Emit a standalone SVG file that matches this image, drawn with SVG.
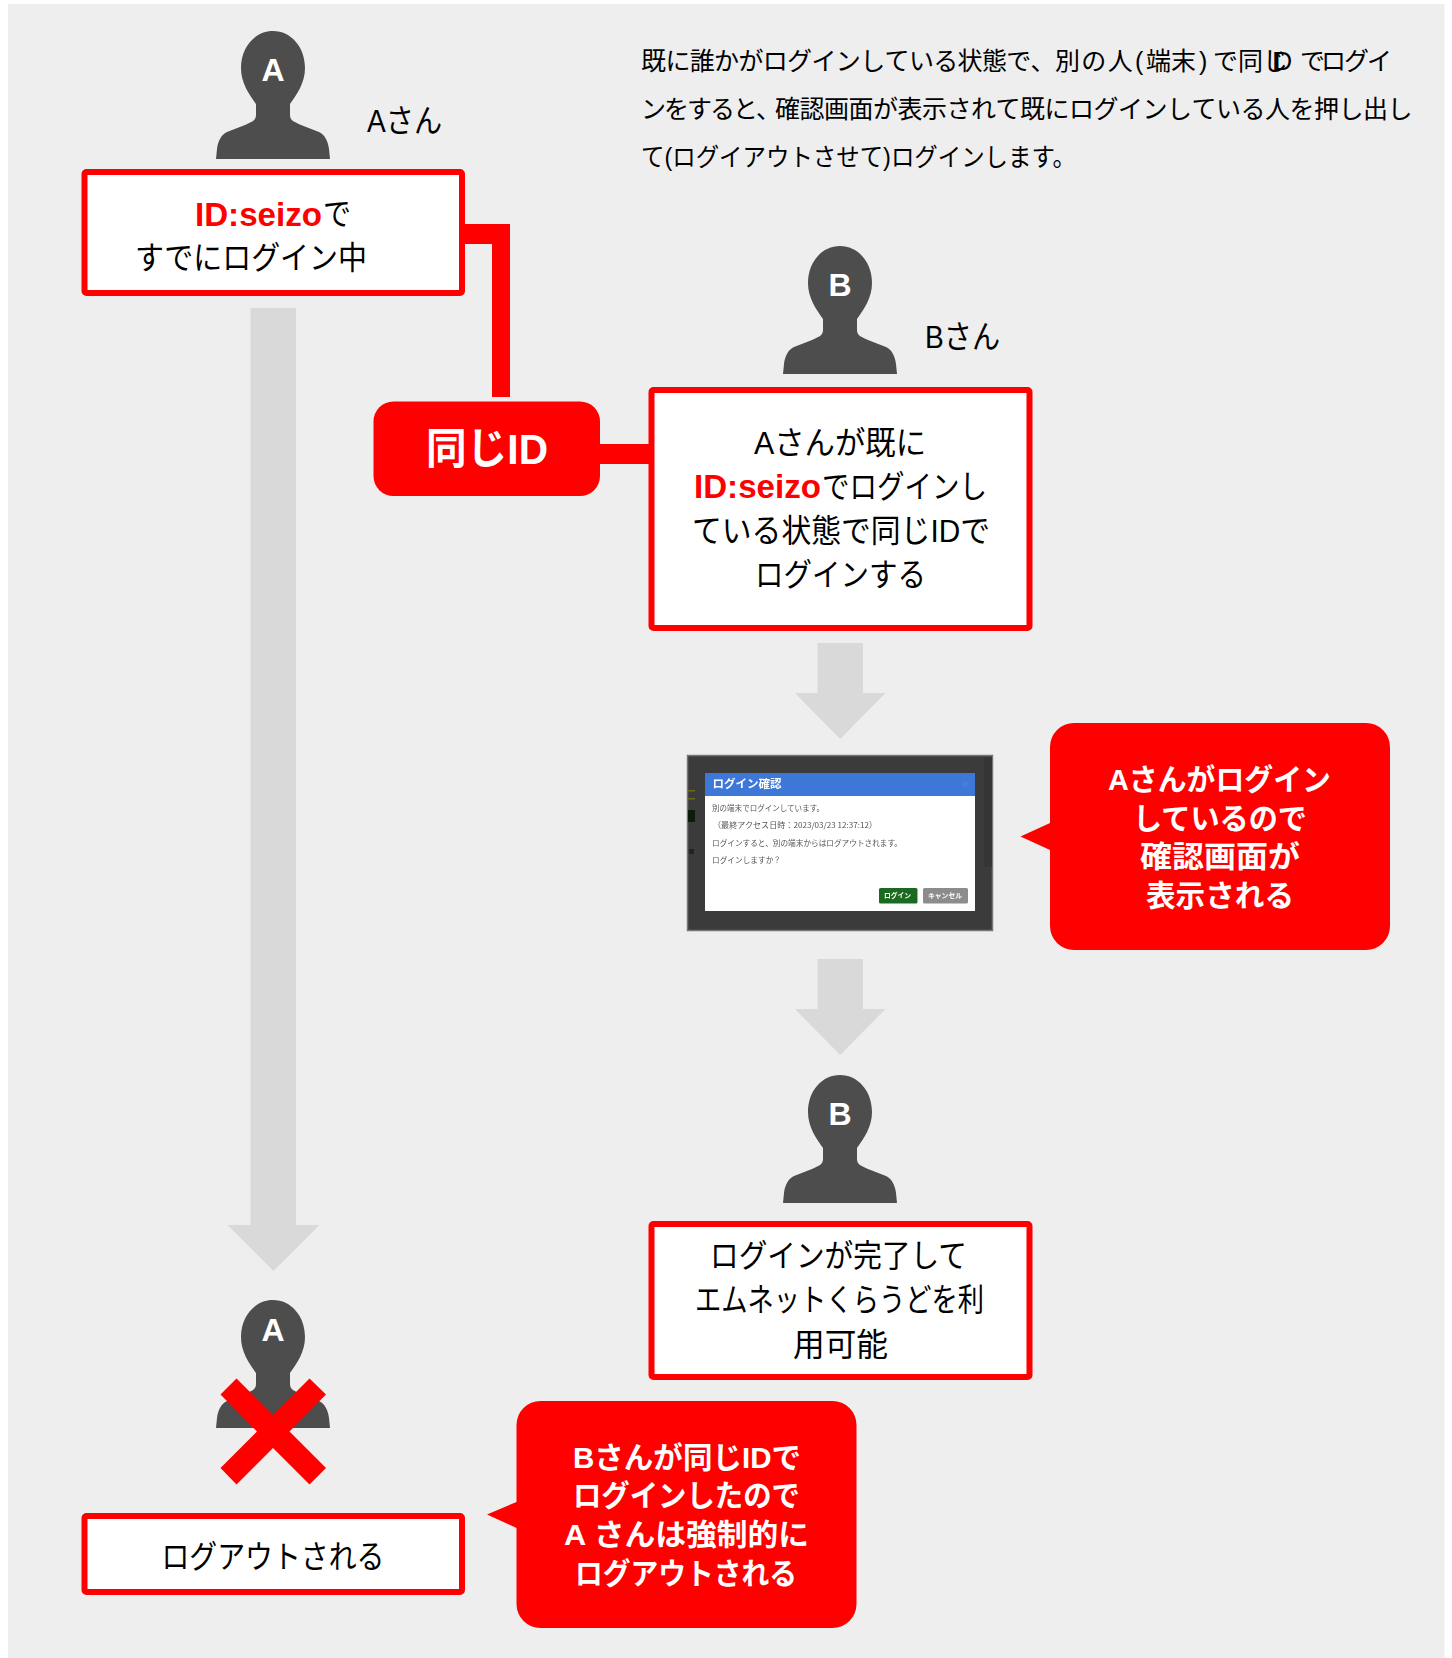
<svg xmlns="http://www.w3.org/2000/svg" width="1452" height="1658" viewBox="0 0 1452 1658">
<style>
text{font-family:"Liberation Sans","Noto Sans CJK JP",sans-serif;}
.box{fill:#fff;stroke:#f00;stroke-width:6;stroke-linejoin:round;}
.red{fill:#f00;}
.grey{fill:#d9d9d9;}
.t{font-size:31.500px;fill:#000;}
.r{font-size:32.500px;fill:#f00;font-weight:700;}
.d{font-size:25px;fill:#000;}
.c{font-size:30px;fill:#fff;font-weight:700;}
.p{font-size:32px;fill:#fff;font-weight:700;text-anchor:middle;}
.person{fill:#4d4d4d;}
.s{font-size:8px;fill:#555;font-family:"Noto Sans CJK JP",sans-serif;}
</style>
<defs>
<path id="person" d="M0,0 C18,0 32,16 32,37 C32,52 24,63 17,73 L17,84 C17,90 22,91 28,94 L46,101 C52,104 55,110 56,118 L57,128 L-57,128 L-56,118 C-55,110 -52,104 -46,101 L-28,94 C-22,91 -17,90 -17,84 L-17,73 C-24,63 -32,52 -32,37 C-32,16 -18,0 0,0 Z"/>
<filter id="soft" x="-5%" y="-5%" width="110%" height="110%"><feGaussianBlur stdDeviation="0.35"/></filter>
</defs>
<rect x="8" y="4" width="1436.500" height="1654" fill="#eee"/>

<g id="connectors">
<path class="red" d="M462,224 H510 V397 H492 V244 H462 Z"/>
<rect class="red" x="598" y="444" width="53" height="20"/>
<path class="grey" d="M250.500,308 H296 V1225 H319.500 L273.500,1271 L227.500,1225 H250.500 Z"/>
<path class="grey" d="M817.500,643 H863 V693 H885.500 L840.200,739 L795,693 H817.500 Z"/>
<path class="grey" d="M817.500,959 H863 V1009 H885.500 L840.200,1055 L795,1009 H817.500 Z"/>
</g>

<g id="person-a">
<use href="#person" class="person" x="273" y="31"/>
<text class="p" x="273" y="81">A</text>
<text class="t" x="367" y="132" textLength="75" lengthAdjust="spacingAndGlyphs">Aさん</text>
</g>

<g id="note">
<text class="d" y="70" x="641 665.400 689.700 714.100 738.400 762.800 787.100 811.500 835.800 860.200 884.500 908.900 933.200 957.600 981.900 1006.300 1030.600 1055 1081.300 1107.700 1135 1146 1171 1199 1213 1238 1263 1272 1274 1300 1321 1344 1367">既に誰かがログインしている状態で、別の人(端末)で同じIDでログイ</text>
<text class="d" y="118" x="641 664 687 710 733 756 775 799.500 824 848.500 873 897.500 922 946.500 971 995.500 1020 1044.500 1069 1093.500 1118 1142.500 1167 1191.500 1216 1240.500 1265 1289.500 1314 1338.500 1363 1387.500">ンをすると、確認画面が表示されて既にログインしている人を押し出し</text>
<text class="d" x="641" y="166" textLength="435" lengthAdjust="spacingAndGlyphs">て(ログイアウトさせて)ログインします。</text>
</g>

<g id="box-a">
<rect class="box" x="84.500" y="172" width="377.500" height="121" rx="2"/>
<text class="r" x="195" y="226" textLength="127" lengthAdjust="spacingAndGlyphs">ID:seizo</text>
<text class="t" x="323" y="225" textLength="28" lengthAdjust="spacingAndGlyphs">で</text>
<text class="t" x="135" y="269" textLength="232" lengthAdjust="spacingAndGlyphs">すでにログイン中</text>
</g>

<g id="same-id">
<rect class="red" x="373.500" y="401.500" width="226.500" height="94.500" rx="20"/>
<text x="426" y="464" font-size="43" font-weight="700" fill="#fff" textLength="122" lengthAdjust="spacingAndGlyphs">同じID</text>
</g>

<g id="person-b">
<use href="#person" class="person" x="840" y="246"/>
<text class="p" x="840" y="295.500">B</text>
<text class="t" x="925" y="348" textLength="75" lengthAdjust="spacingAndGlyphs">Bさん</text>
</g>

<g id="box-b">
<rect class="box" x="651.500" y="390" width="378" height="238" rx="2"/>
<text class="t" x="754" y="454" textLength="172" lengthAdjust="spacingAndGlyphs">Aさんが既に</text>
<text class="r" x="694" y="498" textLength="127" lengthAdjust="spacingAndGlyphs">ID:seizo</text>
<text class="t" x="822" y="498" textLength="165" lengthAdjust="spacingAndGlyphs">でログインし</text>
<text class="t" x="692" y="542" textLength="298" lengthAdjust="spacingAndGlyphs">ている状態で同じIDで</text>
<text class="t" x="755" y="586" textLength="171" lengthAdjust="spacingAndGlyphs">ログインする</text>
</g>

<g id="screen" filter="url(#soft)">
<rect x="687.500" y="755.500" width="305" height="175" fill="#3b3b3b" stroke="#777" stroke-width="1.500"/>
<rect x="984" y="757" width="8" height="110" fill="#363636"/>
<rect x="688" y="790" width="7" height="1.500" fill="#6b6b1e"/>
<rect x="688" y="798" width="7" height="1.500" fill="#6b6b1e"/>
<rect x="688" y="810" width="7" height="12" fill="#0d1a0d"/>
<rect x="689" y="849" width="5" height="5" fill="#222"/>
<rect x="705" y="773" width="270" height="138" fill="#fff"/>
<rect x="705" y="773" width="270" height="23" fill="#3c78d8"/>
<text x="712.500" y="788" font-size="11.500" font-weight="700" fill="#fff" textLength="69" lengthAdjust="spacingAndGlyphs">ログイン確認</text>
<text x="962" y="788" font-size="11" fill="#5a87c8">×</text>
<text class="s" x="712" y="811" textLength="112" lengthAdjust="spacingAndGlyphs">別の端末でログインしています。</text>
<text class="s" x="713" y="828" textLength="164" lengthAdjust="spacingAndGlyphs">（最終アクセス日時：2023/03/23 12:37:12）</text>
<text class="s" x="712" y="846" textLength="190" lengthAdjust="spacingAndGlyphs">ログインすると、別の端末からはログアウトされます。</text>
<text class="s" x="712" y="863" textLength="69" lengthAdjust="spacingAndGlyphs">ログインしますか？</text>
<rect x="879" y="888" width="38.500" height="15.500" rx="1.500" fill="#1e6b22"/>
<text x="884" y="897.500" font-size="7" font-weight="700" fill="#fff" textLength="27" lengthAdjust="spacingAndGlyphs">ログイン</text>
<rect x="923" y="888" width="45" height="15.500" rx="1.500" fill="#8c8c8c"/>
<text x="928" y="897.500" font-size="7" font-weight="700" fill="#fff" textLength="34" lengthAdjust="spacingAndGlyphs">キャンセル</text>
</g>

<g id="callout-a">
<path class="red" d="M1074,723 H1366 A24,24 0 0 1 1390,747 V926 A24,24 0 0 1 1366,950 H1074 A24,24 0 0 1 1050,926 V850 L1020.500,836.500 L1050,823 V747 A24,24 0 0 1 1074,723 Z"/>
<text class="c" x="1108" y="789.500" textLength="223" lengthAdjust="spacingAndGlyphs">Aさんがログイン</text>
<text class="c" x="1133" y="828.500" textLength="174" lengthAdjust="spacingAndGlyphs">しているので</text>
<text class="c" x="1140" y="867" textLength="160" lengthAdjust="spacingAndGlyphs">確認画面が</text>
<text class="c" x="1146" y="905.500" textLength="148" lengthAdjust="spacingAndGlyphs">表示される</text>
</g>

<g id="person-b2">
<use href="#person" class="person" x="840" y="1075"/>
<text class="p" x="840" y="1124.500">B</text>
</g>

<g id="box-c">
<rect class="box" x="651.500" y="1224" width="378" height="153" rx="2"/>
<text class="t" x="710" y="1267" textLength="257" lengthAdjust="spacingAndGlyphs">ログインが完了して</text>
<text class="t" x="695" y="1311" textLength="289" lengthAdjust="spacingAndGlyphs">エムネットくらうどを利</text>
<text class="t" x="793" y="1355.500" textLength="95" lengthAdjust="spacingAndGlyphs">用可能</text>
</g>

<g id="person-a2">
<use href="#person" class="person" x="273" y="1300"/>
<text class="p" x="273" y="1341">A</text>
<path class="red" d="M236.500,1378.500 L273,1415 L309.500,1378.500 L326,1394.500 L289.500,1431.500 L326,1468 L309.500,1484.500 L273,1448 L236.500,1484.500 L220.500,1468 L257,1431.500 L220.500,1394.500 Z"/>
</g>

<g id="box-logout">
<rect class="box" x="84.500" y="1516" width="377.500" height="76" rx="2"/>
<text class="t" x="161.500" y="1568" textLength="223" lengthAdjust="spacingAndGlyphs">ログアウトされる</text>
</g>

<g id="callout-b">
<path class="red" d="M540.500,1401 H832.500 A24,24 0 0 1 856.500,1425 V1604 A24,24 0 0 1 832.500,1628 H540.500 A24,24 0 0 1 516.500,1604 V1528 L487,1514.500 L516.500,1502 V1425 A24,24 0 0 1 540.500,1401 Z"/>
<text class="c" x="573" y="1468" textLength="228" lengthAdjust="spacingAndGlyphs">Bさんが同じIDで</text>
<text class="c" x="573" y="1506" textLength="227" lengthAdjust="spacingAndGlyphs">ログインしたので</text>
<text class="c" x="564" y="1545" textLength="245" lengthAdjust="spacingAndGlyphs">A さんは強制的に</text>
<text class="c" x="575" y="1583.500" textLength="222" lengthAdjust="spacingAndGlyphs">ログアウトされる</text>
</g>
</svg>
